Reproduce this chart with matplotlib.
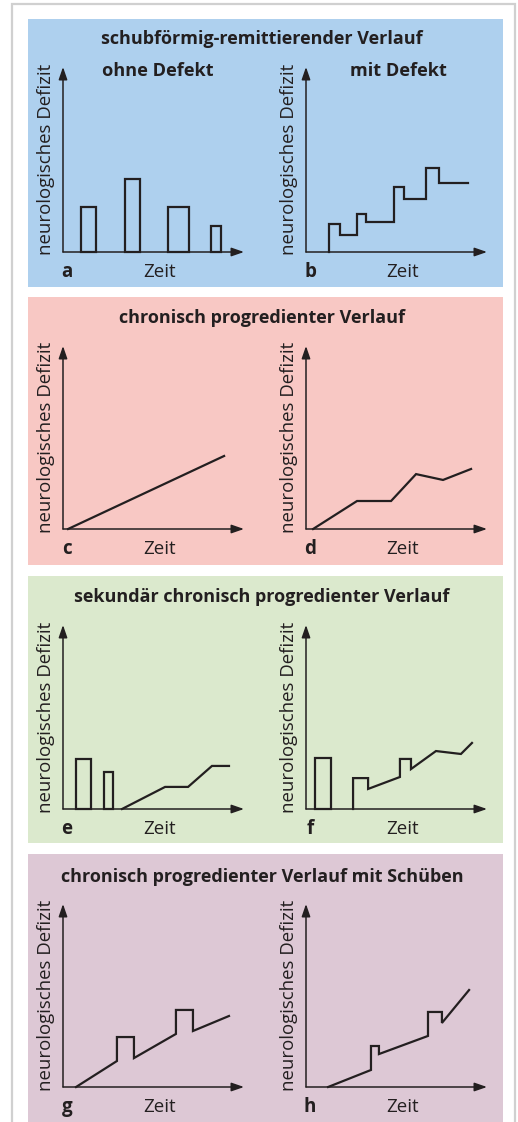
"""MS course types: eight small schematic panels on coloured backgrounds."""

import matplotlib.pyplot as plt
from matplotlib.patches import Rectangle

plt.rcParams['font.family'] = ['Open Sans', 'DejaVu Sans']

W, H = 518, 1122
INK = '#231f20'

# --- data (x: time, y: neurological deficit, both on a 0..10 axis) ---
a_bar_left = [1.0, 3.43, 5.8, 8.18]
a_bar_width = [0.82, 0.82, 1.16, 0.55]
a_bar_height = [2.43, 3.95, 2.43, 1.41]

b_x = [1.27, 1.27, 1.88, 2.82, 3.31, 4.86, 5.41, 6.63, 7.35, 8.95]
b_y = [0.0, 1.51, 0.92, 2.05, 1.62, 3.51, 2.86, 4.54, 3.73, 3.73]

c_x = [0.28, 8.9]
c_y = [0.0, 3.99]

d_x = [0.39, 2.82, 4.7, 6.08, 7.57, 9.12]
d_y = [0.0, 1.53, 1.53, 3.0, 2.68, 3.28]

e_bar_left = [0.72, 2.27]
e_bar_width = [0.83, 0.49]
e_bar_height = [2.72, 2.01]
e_x = [3.26, 5.64, 6.91, 8.23, 9.17]
e_y = [0.0, 1.2, 1.2, 2.34, 2.34]

f_bar_left = [0.5]
f_bar_width = [0.88]
f_bar_height = [2.77]
f_x = [2.6, 2.6, 3.43, 3.43, 5.19, 5.19, 5.8, 5.8, 7.18, 8.56, 9.17]
f_y = [0.0, 1.68, 1.68, 1.09, 1.74, 2.72, 2.72, 2.17, 3.15, 2.99, 3.59]

g_x = [0.72, 2.98, 2.98, 3.92, 3.92, 6.24, 6.24, 7.18, 7.18, 9.17]
g_y = [0.0, 1.42, 2.73, 2.73, 1.58, 2.9, 4.21, 4.21, 3.06, 3.88]

h_x = [1.22, 3.59, 3.59, 4.03, 4.03, 6.74, 6.74, 7.51, 7.51, 9.01]
h_y = [0.0, 0.93, 2.24, 2.24, 1.8, 2.79, 4.1, 4.1, 3.5, 5.3]

titles = ['schubförmig-remittierender Verlauf',
          'chronisch progredienter Verlauf',
          'sekundär chronisch progredienter Verlauf',
          'chronisch progredienter Verlauf mit Schüben']
panel_colors = ['#aed0ee', '#f8c8c4', '#dbe9cd', '#ddc8d5']
panel_top = [19, 297, 576, 854]
panel_bottom = [287, 565, 843, 1130]
title_y = [39, 318, 597, 877]
baseline = [252, 529, 809, 1087]
axis_top = [67, 346, 625, 904]
letters = [('a', 'b'), ('c', 'd'), ('e', 'f'), ('g', 'h')]


def fx(x):
    return x / W


def fy(y):
    return 1 - y / H


fig = plt.figure(figsize=(W / 100, H / 100), dpi=100)

# outer grey frame
fig.patches.append(Rectangle((fx(12), fy(1130)), fx(515) - fx(12), fy(4) - fy(1130),
                             transform=fig.transFigure, fill=False, zorder=-2,
                             edgecolor='#d0d0d0', linewidth=1.6))

for i in range(4):
    fig.patches.append(Rectangle((fx(28), fy(panel_bottom[i])), fx(503) - fx(28),
                                 fy(panel_top[i]) - fy(panel_bottom[i]),
                                 transform=fig.transFigure, facecolor=panel_colors[i],
                                 edgecolor='none', zorder=-1))
    fig.text(fx(262), fy(title_y[i]), titles[i], ha='center', va='center',
             fontsize=13, fontweight='bold', color=INK)


def make_axes(row, col):
    x0 = 63 if col == 0 else 306
    b, t = baseline[row], axis_top[row]
    ax = fig.add_axes([fx(x0), fy(b), fx(x0 + 181) - fx(x0), fy(t) - fy(b)])
    ax.set_xlim(0, 10)
    ax.set_ylim(0, 10)
    ax.axis('off')
    arrow = dict(arrowstyle='-|>,head_length=0.75,head_width=0.26',
                 color=INK, lw=1.1, mutation_scale=10, shrinkA=0, shrinkB=0)
    ax.annotate('', xy=(10, 0), xytext=(0, 0), arrowprops=arrow, annotation_clip=False)
    ax.annotate('', xy=(0, 10), xytext=(0, 0), arrowprops=arrow, annotation_clip=False)
    fig.text(fx(x0 - 17), fy((b + t) / 2), 'neurologisches Defizit', rotation=90,
             ha='center', va='center', fontsize=13.4, color=INK)
    fig.text(fx(x0 + 4), fy(b + 20), letters[row][col], ha='center', va='center',
             fontsize=13.5, fontweight='bold', color=INK)
    fig.text(fx(x0 + 97), fy(b + 20), 'Zeit', ha='center', va='center',
             fontsize=13.5, color=INK)
    return ax


line_kw = dict(color=INK, lw=1.6, solid_joinstyle='miter', clip_on=False)
bar_kw = dict(align='edge', fill=False, edgecolor=INK, linewidth=1.6, clip_on=False)

ax = make_axes(0, 0)
ax.bar(a_bar_left, a_bar_height, width=a_bar_width, **bar_kw)
ax = make_axes(0, 1)
ax.step(b_x, b_y, where='post', **line_kw)
fig.text(fx(158), fy(71), 'ohne Defekt', ha='center', va='center',
         fontsize=13.1, fontweight='bold', color=INK)
fig.text(fx(398), fy(71), 'mit Defekt', ha='center', va='center',
         fontsize=13.1, fontweight='bold', color=INK)

ax = make_axes(1, 0)
ax.plot(c_x, c_y, **line_kw)
ax = make_axes(1, 1)
ax.plot(d_x, d_y, **line_kw)

ax = make_axes(2, 0)
ax.bar(e_bar_left, e_bar_height, width=e_bar_width, **bar_kw)
ax.plot(e_x, e_y, **line_kw)
ax = make_axes(2, 1)
ax.bar(f_bar_left, f_bar_height, width=f_bar_width, **bar_kw)
ax.plot(f_x, f_y, **line_kw)

ax = make_axes(3, 0)
ax.plot(g_x, g_y, **line_kw)
ax = make_axes(3, 1)
ax.plot(h_x, h_y, **line_kw)

fig.savefig('out.png', dpi=100)
